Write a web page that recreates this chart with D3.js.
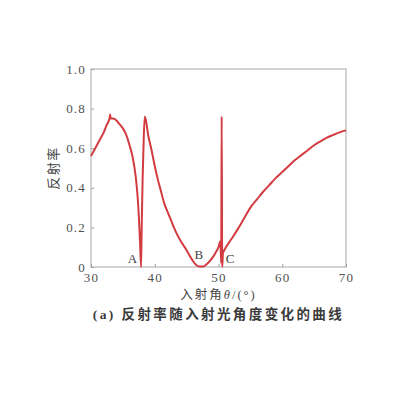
<!DOCTYPE html>
<html>
<head>
<meta charset="utf-8">
<script src="https://cdn.jsdelivr.net/npm/d3@7"></script>
<style>
  body { margin: 0; background: #fff; }
  .tick text { font-family: "Liberation Serif", "DejaVu Serif", serif; font-size: 13px; fill: #505050; letter-spacing: 1.2px; }
  .frame { fill: none; stroke: #a8a8a8; stroke-width: 1; }
  .curve { fill: none; stroke: #d23c40; stroke-width: 2; }
  .mark { font-family: "Liberation Serif", serif; font-size: 13px; fill: #444; }
</style>
</head>
<body>
<div id="chart"></div>
<script>
// incidence angle (deg) and reflectance
var theta = [30, 30.5, 31, 31.5, 32, 32.5, 32.9, 33.0, 33.1, 33.5, 34, 34.5, 35, 35.5, 36, 36.5, 37, 37.3, 37.5, 37.7, 37.85,
             37.95, 38.1, 38.3, 38.45, 39, 39.5, 40, 40.5, 41, 41.5, 42, 42.5, 43, 43.5, 44, 44.5, 45, 45.5, 46, 46.5, 47, 47.5,
             48, 48.5, 49, 49.5, 50, 50.3, 50.42, 50.5, 50.58, 50.7, 51, 52, 53, 54, 55, 56, 57, 58, 59, 60,
             61, 62, 63, 64, 65, 66, 67, 68, 69, 70];
var reflect = [0.56, 0.59, 0.62, 0.65, 0.68, 0.72, 0.75, 0.77, 0.75, 0.75, 0.74, 0.72, 0.70, 0.67, 0.62, 0.56, 0.46, 0.36, 0.26, 0.12, 0.0,
               0.2, 0.45, 0.68, 0.76, 0.66, 0.59, 0.51, 0.44, 0.38, 0.32, 0.28, 0.24, 0.20, 0.165, 0.135, 0.11, 0.085, 0.055, 0.03, 0.01, 0.002, 0.002,
               0.01, 0.025, 0.045, 0.07, 0.10, 0.13, 0.02, 0.76, 0.0, 0.07, 0.09, 0.14, 0.19, 0.245, 0.30, 0.34, 0.38, 0.415, 0.45, 0.48,
               0.51, 0.54, 0.565, 0.59, 0.615, 0.635, 0.653, 0.667, 0.68, 0.69];

var xTicks = [30, 40, 50, 60, 70];
var yTicks = [0, 0.2, 0.4, 0.6, 0.8, 1.0];
var yTickLabels = ["0", "0.2", "0.4", "0.6", "0.8", "1.0"];

var markNames = ["A", "B", "C"];
var markTheta = [36.5, 46.9, 51.8];
var markY = [0.02, 0.04, 0.02];

var width = 400, height = 400;
var margin = {top: 69, right: 54, bottom: 133, left: 91};
var w = width - margin.left - margin.right;
var h = height - margin.top - margin.bottom;

var svg = d3.select("#chart").append("svg")
    .attr("width", width)
    .attr("height", height);

var g = svg.append("g")
    .attr("transform", "translate(" + margin.left + "," + margin.top + ")");

var x = d3.scaleLinear().domain([30, 70]).range([0, w]);
var y = d3.scaleLinear().domain([0, 1]).range([h, 0]);

// bottom axis, ticks inside the frame
var xAxis = g.append("g")
    .attr("transform", "translate(0," + h + ")")
    .call(d3.axisBottom(x).tickValues(xTicks).tickSizeInner(-3).tickSizeOuter(0).tickPadding(6));
xAxis.select(".domain").remove();
xAxis.selectAll(".tick line").attr("stroke", "#999");

var yAxis = g.append("g")
    .call(d3.axisLeft(y).tickValues(yTicks).tickFormat(function(d, i) { return yTickLabels[i]; })
          .tickSizeInner(-3).tickSizeOuter(0).tickPadding(5));
yAxis.select(".domain").remove();
yAxis.selectAll(".tick line").attr("stroke", "#999");

g.append("rect")
    .attr("class", "frame")
    .attr("width", w)
    .attr("height", h);

var pts = theta.map(function(t, i) { return [t, reflect[i]]; });
var line = d3.line()
    .x(function(d) { return x(d[0]); })
    .y(function(d) { return y(d[1]); })
    .curve(d3.curveMonotoneX);

g.append("path")
    .datum(pts)
    .attr("class", "curve")
    .attr("d", line);

g.selectAll(".mark").data(markNames).enter().append("text")
    .attr("class", "mark")
    .attr("x", function(d, i) { return x(markTheta[i]); })
    .attr("y", function(d, i) { return y(markY[i]); })
    .attr("text-anchor", "middle")
    .text(function(d) { return d; });

// axis titles
svg.append("text")
    .attr("transform", "translate(58," + (margin.top + h / 2) + ") rotate(-90)")
    .attr("text-anchor", "middle")
    .style("font-family", "'Noto Sans CJK SC', sans-serif")
    .style("font-size", "13px")
    .style("letter-spacing", "1.5px")
    .style("fill", "#444")
    .text("反射率");

var xl = svg.append("text")
    .attr("x", margin.left + w / 2)
    .attr("y", 299)
    .attr("text-anchor", "middle")
    .style("font-family", "'Noto Sans CJK SC', sans-serif")
    .style("font-size", "12.5px")
    .style("letter-spacing", "2px")
    .style("fill", "#444");
xl.append("tspan").text("入射角");
xl.append("tspan").style("font-family", "'Liberation Serif', serif").style("font-style", "italic").text("θ");
xl.append("tspan").style("font-family", "'Liberation Serif', serif").text("/(°)");

var cap = svg.append("text")
    .attr("x", margin.left + w / 2)
    .attr("y", 319)
    .attr("text-anchor", "middle")
    .style("font-family", "'Noto Sans CJK SC', sans-serif")
    .style("font-size", "13.5px")
    .style("letter-spacing", "2.4px")
    .style("font-weight", "bold")
    .style("fill", "#3a3a3a");
cap.append("tspan").style("font-family", "'Liberation Serif', serif").text("(a) ");
cap.append("tspan").text("反射率随入射光角度变化的曲线");
</script>
</body>
</html>
